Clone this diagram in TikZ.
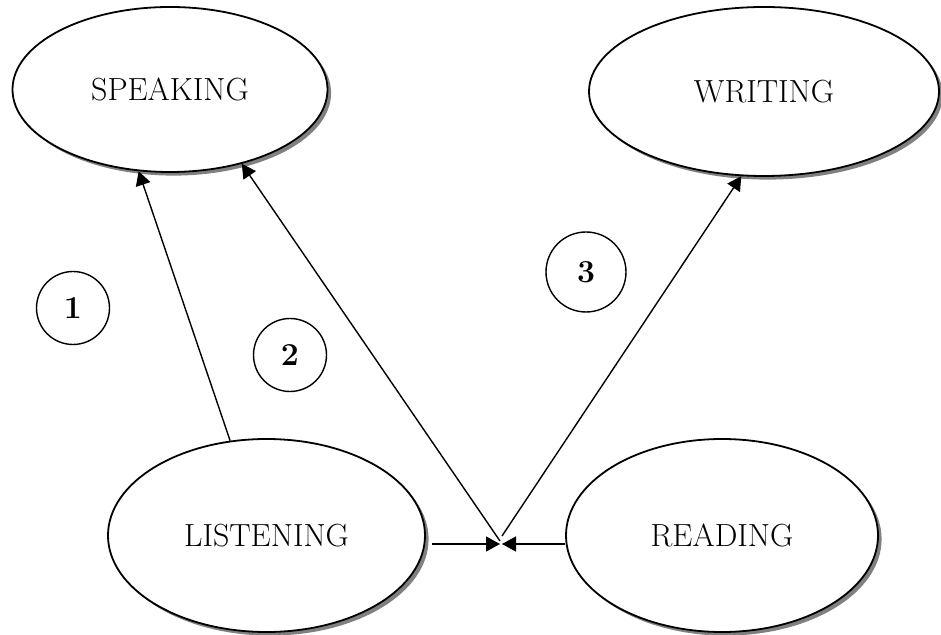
\documentclass[tikz,border=0pt]{standalone}
\usepackage{xcolor}
\usetikzlibrary{shapes.geometric,shadows,arrows.meta}

\tikzset{
  habilidad/.style={ellipse, draw, line width=0.9pt, fill=white,
    minimum width=#1, minimum height=96.5pt, inner sep=0pt,
    font=\fontsize{16}{19}\selectfont,
    drop shadow={shadow xshift=1.8pt, shadow yshift=-1.8pt, fill=gray, opacity=1}},
  habilidad/.default=157pt,
  numero/.style={circle, draw, line width=0.7pt, minimum size=36.5pt, inner sep=0pt,
    font=\fontsize{16}{18}\selectfont\bfseries},
  flecha/.style={line width=0.7pt, -{Triangle[length=7pt, width=7.5pt]}},
  linea/.style={line width=0.7pt}
}

\begin{document}
\begin{tikzpicture}[x=0.5pt, y=-0.5pt]
        % Paso 1: Fija el marco del dibujo.
        \useasboundingbox (0,0) rectangle (941,635);

        % Paso 2: Define los puntos donde se juntan las flechas.
        \coordinate (izq) at (500,544);
        \coordinate (der) at (502,544);
        \coordinate (fin2) at (500,541);
        \coordinate (ini3) at (502,536);

        % Paso 3: Dibuja las cuatro elipses con sombra.
        \node[habilidad={157.5pt}, minimum height=82.5pt] (speak) at (170,89.5) {SPEAKING};
        \node[habilidad={175pt}, minimum height=84.5pt] (write) at (764,91.5) {WRITING};
        \node[habilidad={158.5pt}] (listen) at (266.5,535.5) {LISTENING};
        \node[habilidad={156pt}] (read) at (722,535.5) {READING};

        % Paso 4: Dibuja los circulos numerados.
        \node[numero] (uno) at (73,308) {1};
        \node[numero] (dos) at (290,355) {2};
        \node[numero, minimum height=40pt] (tres) at (586,272) {3};

        % Paso 5: Dibuja las flechas hacia SPEAKING y WRITING.
        \draw[flecha] (listen.111) -- (speak.249);
        \draw[flecha] (fin2) -- (speak.314);
        \draw[flecha] (ini3) -- (write.255);

        % Paso 6: Dibuja las flechas horizontales que se encuentran.
        \draw[flecha, shorten <=3pt] (listen.east |- izq) -- (izq);
        \draw[flecha] (read.west |- der) -- (der);
    \end{tikzpicture}
\end{document}
